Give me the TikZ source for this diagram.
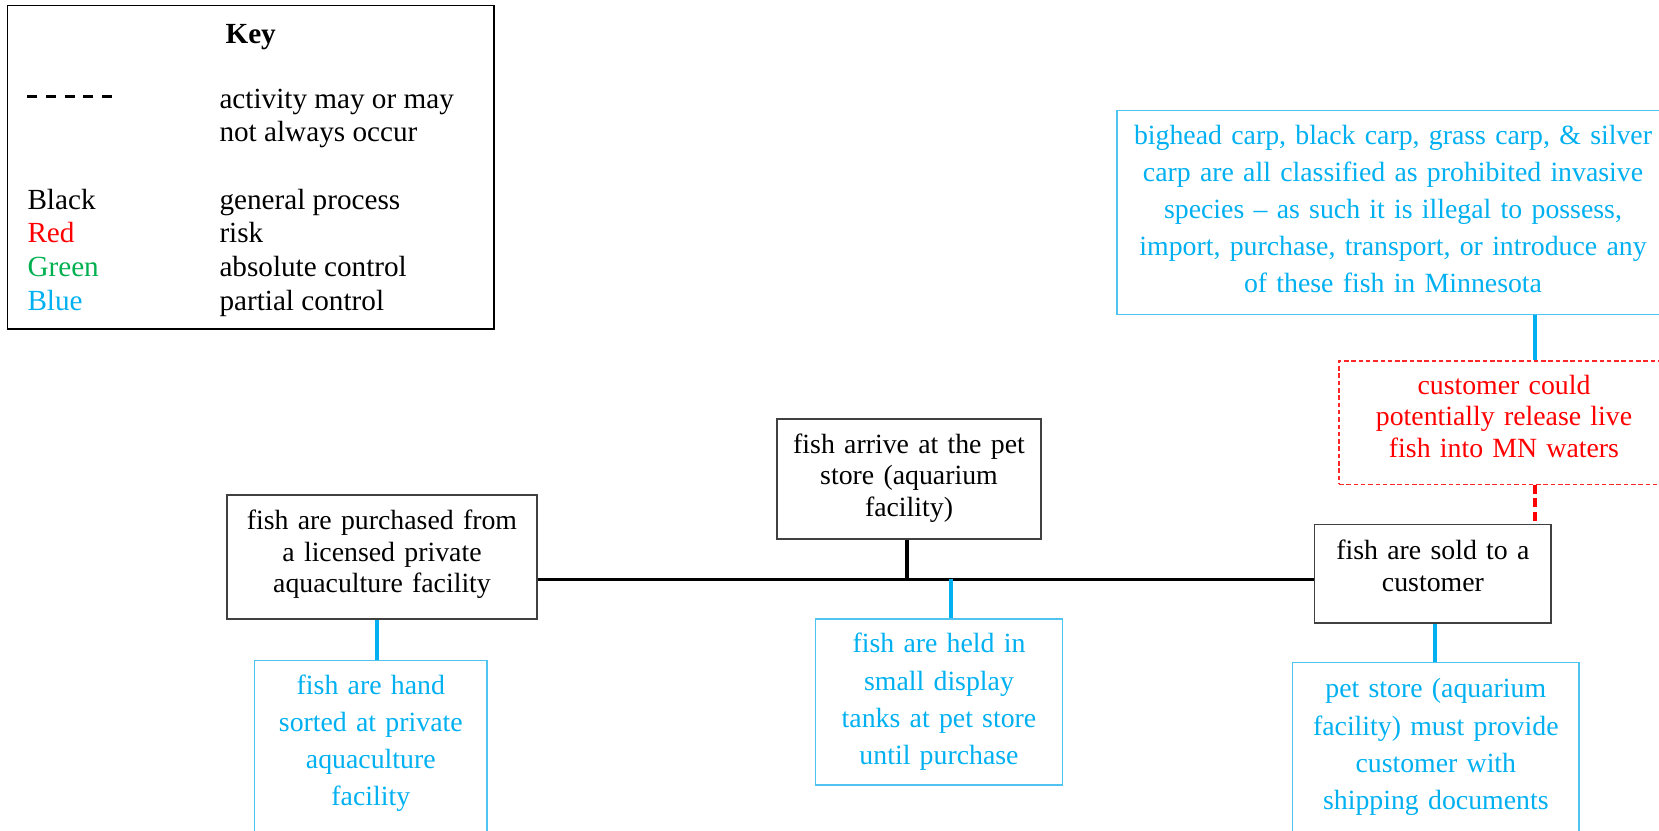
\documentclass[tikz,border=0pt]{standalone}
\usepackage{fontspec}
\setmainfont{Liberation Serif}
\usetikzlibrary{calc}

\definecolor{ctrlblue}{RGB}{0,176,240}
\definecolor{ctrlframe}{RGB}{80,196,240}
\definecolor{riskred}{RGB}{255,0,0}
\definecolor{riskframe}{RGB}{255,40,40}
\definecolor{okgreen}{RGB}{0,176,80}
\definecolor{procframe}{RGB}{64,64,64}

\begin{document}
\begin{tikzpicture}[x=1pt,y=-1pt,
  boxbase/.style={anchor=base, align=center, inner xsep=0pt, inner ysep=0pt},
  proc/.style={boxbase, draw=procframe, line width=1.4pt, text=black,
    font=\fontsize{27.8}{31.7}\selectfont},
  partial/.style={boxbase, draw=ctrlframe, line width=1.4pt, text=ctrlblue,
    font=\fontsize{27.8}{37.1}\selectfont},
  risk/.style={boxbase, draw=riskframe, line width=1.25pt, dash pattern=on 4.5pt off 2.8pt,
    text=riskred, font=\fontsize{27.8}{31.85}\selectfont},
  keytext/.style={anchor=base west, inner sep=0pt, font=\fontsize{29.2}{33.7}\selectfont},
  spine/.style={line width=3.4pt, black},
  bluelink/.style={line width=3.4pt, ctrlblue},
  redlink/.style={line width=3.4pt, riskred, dash pattern=on 9pt off 4.5pt},
]
\useasboundingbox (0,0) rectangle (1659,830);
\clip (0,0) rectangle (1659,830);

% ---------- key ----------
\node[draw=black, line width=1.3pt, minimum width=486.7pt, minimum height=323.3pt, inner sep=0pt]
  (key) at (250.65,167.35) {};
\node[anchor=base, inner sep=0pt, font=\fontsize{29.2}{33.7}\selectfont\bfseries]
  (keytitle) at (250.7,43.3) {Key};
\coordinate (dashA) at (27.3,96.7);
\coordinate (dashB) at (112.3,96.7);
\draw[line width=2.7pt, dash pattern=on 10pt off 8.7pt] (dashA) -- (dashB);
\node[keytext] (k1) at (219.3,108.3) {activity may or may};
\node[keytext] (k2) at (219.3,141.7) {not always occur};
\node[keytext] (k3a) at (27.3,209) {Black};
\node[keytext] (k3b) at (219.3,209) {general process};
\node[keytext, text=riskred] (k4a) at (27.3,242.3) {Red};
\node[keytext] (k4b) at (219.3,242.3) {risk};
\node[keytext, text=okgreen] (k5a) at (27.3,276.7) {Green};
\node[keytext] (k5b) at (219.3,276.7) {absolute control};
\node[keytext, text=ctrlblue] (k6a) at (27.3,310.7) {Blue};
\node[keytext] (k6b) at (219.3,310.7) {partial control};

% ---------- process boxes ----------
\node[proc, text width=310pt, text height=34.5pt, text depth=89.5pt] (buy) at (382,529.5)
  {fish are purchased from\\a licensed private\\aquaculture facility};
\node[proc, text width=264pt, text height=34pt, text depth=86pt] (arrive) at (909,453)
  {fish arrive at the pet\\store (aquarium\\facility)};
\node[proc, text width=236.3pt, text height=35pt, text depth=63.5pt] (sold) at (1432.9,559.5)
  {fish are sold to a\\customer};

% ---------- partial controls ----------
\node[partial, text width=232.5pt, text height=33.8pt, text depth=200pt] (sort) at (370.8,694.5)
  {fish are hand\\sorted at private\\aquaculture\\facility};
\node[partial, text width=247.4pt, text height=33.9pt, text depth=132.1pt] (tanks) at (939,652.9)
  {fish are held in\\small display\\tanks at pet store\\until purchase};
\node[partial, text width=286.3pt, text height=35.2pt, text depth=200pt] (docs) at (1435.8,697.9)
  {pet store (aquarium\\facility) must provide\\customer with\\shipping documents};
\node[partial, text width=552pt, text height=33.7pt, text depth=170.1pt] (law) at (1393,144.4)
  {bighead carp, black carp, grass carp, \& silver\\carp are all classified as prohibited invasive\\species -- as such it is illegal to possess,\\import, purchase, transport, or introduce any\\of these fish in Minnesota};

% ---------- risk ----------
\node[risk, text width=330pt, text height=33.1pt, text depth=90.2pt] (release) at (1504,394.1)
  {customer could\\potentially release live\\fish into MN waters};

% ---------- connectors ----------
\coordinate (jArrive) at (907,579.3);
\coordinate (jTanks) at (951,579.3);
\coordinate (xSort) at (377,0);
\coordinate (xSold) at (1435,0);
\coordinate (xRisk) at (1535,0);

\draw[spine] (jArrive -| buy.east) -- (jArrive -| sold.west);
\draw[spine] (arrive.south -| jArrive) -- (jArrive);
\draw[bluelink] (jTanks) -- (jTanks |- tanks.north);
\draw[bluelink] (xSort |- buy.south) -- (xSort |- sort.north);
\draw[bluelink] (xSold |- sold.south) -- (xSold |- docs.north);
\draw[bluelink] (xRisk |- law.south) -- (xRisk |- release.north);
\draw[redlink] (xRisk |- release.south) -- (xRisk |- sold.north);
\end{tikzpicture}
\end{document}
